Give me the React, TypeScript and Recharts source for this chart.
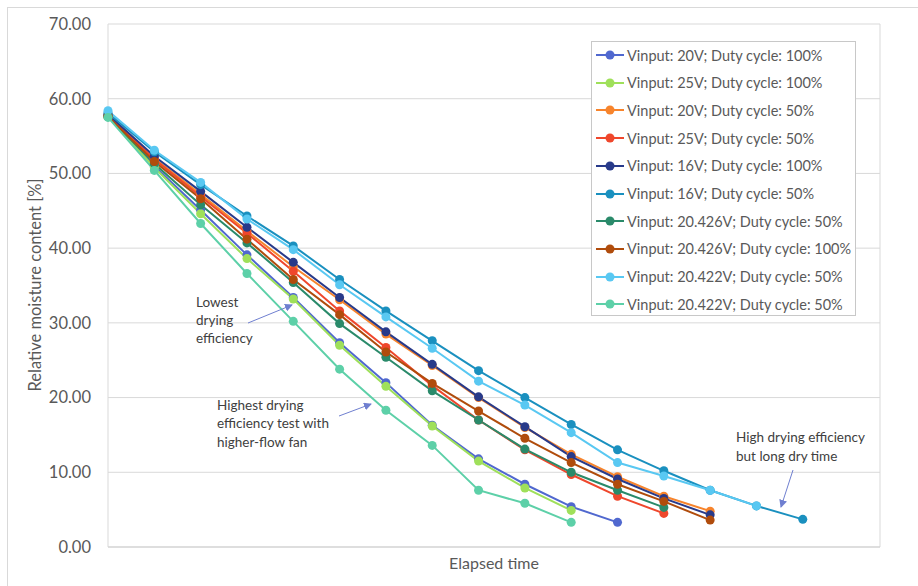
import React from 'react';
import { LineChart, Line, XAxis, YAxis, CartesianGrid, Legend } from 'recharts';

const times = [0, 3, 6, 9, 12, 15, 18, 21, 24, 27, 30, 33, 36, 39, 42, 45];
const yTicks = [0, 10, 20, 30, 40, 50, 60, 70];
const xGrid = [0, 5, 10, 15, 20, 25, 30, 35, 40, 45, 50];

const v20d100 = [57.7, 51.0, 45.1, 39.1, 33.4, 27.35, 22.0, 16.3, 11.8, 8.4, 5.4, 3.3];
const v25d100 = [57.6, 50.8, 44.6, 38.6, 33.2, 27.0, 21.5, 16.2, 11.5, 7.9, 4.9];
const v20d50 = [57.8, 52.0, 47.2, 42.3, 37.5, 33.1, 28.5, 24.3, 20.0, 16.0, 12.4, 9.4, 6.8, 4.8];
const v25d50 = [57.7, 51.9, 46.9, 42.0, 36.9, 31.6, 26.7, 21.6, 17.0, 13.0, 9.7, 6.8, 4.5];
const v16d100 = [57.9, 52.3, 47.6, 42.8, 38.1, 33.4, 28.8, 24.45, 20.1, 16.1, 12.1, 9.1, 6.5, 4.3];
const v16d50 = [58.1, 52.9, 48.5, 44.3, 40.3, 35.8, 31.6, 27.6, 23.6, 20.0, 16.4, 13.0, 10.2, 7.6, 5.5, 3.7];
const v20426d50 = [57.6, 51.3, 45.8, 40.7, 35.4, 29.9, 25.4, 20.9, 17.0, 13.1, 10.0, 7.6, 5.3];
const v20426d100 = [57.6, 51.6, 46.6, 41.2, 35.8, 31.1, 26.1, 21.9, 18.2, 14.55, 11.3, 8.4, 6.1, 3.6];
const v20422d50a = [58.4, 53.1, 48.8, 43.9, 39.8, 35.1, 30.8, 26.6, 22.2, 19.0, 15.3, 11.3, 9.5, 7.6, 5.5];
const v20422d50b = [57.5, 50.4, 43.3, 36.6, 30.2, 23.8, 18.3, 13.6, 7.6, 5.85, 3.3];

const series = [
  { name: 'Vinput: 20V; Duty cycle: 100%', color: '#5068cf', values: v20d100 },
  { name: 'Vinput: 25V; Duty cycle: 100%', color: '#9fe05a', values: v25d100 },
  { name: 'Vinput: 20V; Duty cycle: 50%', color: '#f7842c', values: v20d50 },
  { name: 'Vinput: 25V; Duty cycle: 50%', color: '#ef472c', values: v25d50 },
  { name: 'Vinput: 16V; Duty cycle: 100%', color: '#283a8a', values: v16d100 },
  { name: 'Vinput: 16V; Duty cycle: 50%', color: '#1a90bf', values: v16d50 },
  { name: 'Vinput: 20.426V; Duty cycle: 50%', color: '#2a8a6a', values: v20426d50 },
  { name: 'Vinput: 20.426V; Duty cycle: 100%', color: '#b04c0c', values: v20426d100 },
  { name: 'Vinput: 20.422V; Duty cycle: 50%', color: '#59c8f2', values: v20422d50a },
  { name: 'Vinput: 20.422V; Duty cycle: 50%', color: '#5dd0a8', values: v20422d50b },
];

const FONT = 'Lato, "Open Sans", sans-serif';

const toData = (vals: number[]) => vals.map((v, i) => ({ t: times[i], v }));

const LegendBox = () => (
  <div
    style={{
      width: 263,
      height: 273,
      border: '1px solid #c8c8c8',
      background: '#fff',
      boxSizing: 'content-box',
      fontFamily: FONT,
      fontSize: 14.5,
      color: '#595959',
    }}
  >
    {series.map((s, i) => (
      <div key={i} style={{ position: 'absolute', left: 5, top: 3 + i * 27.7, height: 22, display: 'flex', alignItems: 'center', whiteSpace: 'nowrap' }}>
        <svg width={28} height={12} style={{ marginRight: 3 }}>
          <line x1={0} y1={6} x2={28} y2={6} stroke={s.color} strokeWidth={2} />
          <circle cx={14} cy={6} r={4.5} fill={s.color} />
        </svg>
        <span>{s.name}</span>
      </div>
    ))}
  </div>
);

const annText = { fontFamily: FONT, fontSize: 13.5, fill: '#404040' } as const;
const arrowColor = '#6f7fd0';

const Annotations = () => (
  <svg width={918} height={586} style={{ position: 'absolute', left: 0, top: 0, pointerEvents: 'none' }}>
    <defs>
      <marker id="ah" markerWidth="8" markerHeight="8" refX="7" refY="4" orient="auto" markerUnits="userSpaceOnUse">
        <path d="M0,0 L8,4 L0,8 z" fill={arrowColor} />
      </marker>
    </defs>
    <text {...annText} x={196} y={307}>Lowest</text>
    <text {...annText} x={196} y={325}>drying</text>
    <text {...annText} x={196} y={343}>efficiency</text>
    <line x1={248} y1={323} x2={292} y2={305} stroke={arrowColor} strokeWidth={1} markerEnd="url(#ah)" />

    <text {...annText} x={217} y={410}>Highest drying</text>
    <text {...annText} x={217} y={428}>efficiency test with</text>
    <text {...annText} x={217} y={447}>higher-flow fan</text>
    <line x1={339} y1={416} x2={371} y2={404} stroke={arrowColor} strokeWidth={1} markerEnd="url(#ah)" />

    <text {...annText} x={736} y={442}>High drying efficiency</text>
    <text {...annText} x={736} y={461}>but long dry time</text>
    <line x1={793} y1={470} x2={781} y2={507} stroke={arrowColor} strokeWidth={1} markerEnd="url(#ah)" />
  </svg>
);

export default function App() {
  return (
    <div style={{ position: 'absolute', left: 0, top: 0, width: 918, height: 586, background: '#fff', overflow: 'hidden' }}>
      <div style={{ position: 'absolute', left: 7, top: 7, width: 930, height: 600, border: '1px solid #d9d9d9' }} />
      <LineChart width={918} height={586} margin={{ top: 24, right: 38, left: 8, bottom: 9 }}>
        <CartesianGrid stroke="#d9d9d9" strokeWidth={1} />
        <XAxis
          dataKey="t"
          type="number"
          domain={[0, 50]}
          ticks={xGrid}
          tick={false}
          tickLine={false}
          axisLine={{ stroke: '#d0d0d0' }}
          height={30}
          allowDuplicatedCategory={false}
          label={{ value: 'Elapsed time', position: 'insideBottom', offset: 8, fill: '#595959', fontSize: 16, fontFamily: FONT }}
        />
        <YAxis
          type="number"
          domain={[0, 70]}
          ticks={yTicks}
          width={100}
          tickSize={0}
          tickMargin={17}
          tickLine={false}
          axisLine={false}
          tickFormatter={(v: number) => v.toFixed(2)}
          tick={{ fill: '#595959', fontSize: 16.5, fontFamily: FONT }}
          label={{
            content: () => (
              <text x={35} y={285} transform="rotate(-90 35 285)" textAnchor="middle" dominantBaseline="central" fill="#595959" fontSize={16.5} fontFamily={FONT}>
                Relative moisture content [%]
              </text>
            ),
          }}
        />
        <Legend
          layout="vertical"
          align="center"
          verticalAlign="middle"
          wrapperStyle={{ left: 591, top: 41, width: 265, height: 275 }}
          content={() => <LegendBox />}
        />
        {series.map((s, i) => (
          <Line
            key={i}
            data={toData(s.values)}
            dataKey="v"
            name={s.name}
            type="linear"
            stroke={s.color}
            strokeWidth={2}
            dot={{ r: 4.5, fill: s.color, stroke: s.color, strokeWidth: 0 }}
            activeDot={false}
            isAnimationActive={false}
          />
        ))}
      </LineChart>
      <Annotations />
    </div>
  );
}
